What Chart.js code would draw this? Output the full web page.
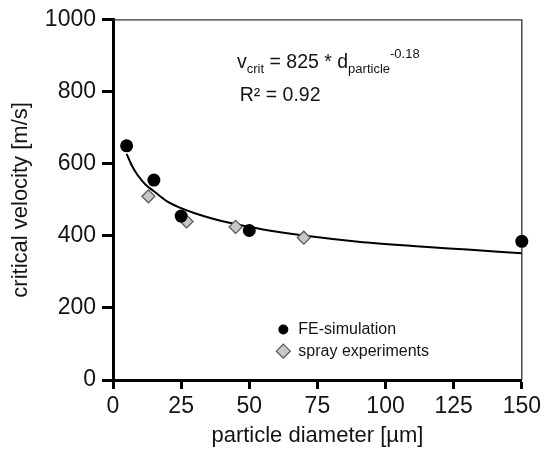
<!DOCTYPE html>
<html>
<head>
<meta charset="utf-8">
<script src="https://cdn.jsdelivr.net/npm/chart.js@4/dist/chart.umd.min.js"></script>
<style>
  html, body { margin: 0; padding: 0; background: #fff; }
  #wrap { width: 545px; height: 451px; }
</style>
</head>
<body>
<div id="wrap"><canvas id="chart" width="545" height="451"></canvas></div>
<script>
// values
const feX = [5, 15, 25, 50, 150];
const feY = [650, 555, 455, 415, 385];

const sprayX = [13, 27, 45, 70];
const sprayY = [510, 440, 425, 395];

// fitted curve
const fitX = [5, 7, 9, 12, 15, 20, 25, 30, 37, 45, 55, 70, 90, 110, 130, 150];
const fitY = [628, 594, 569, 542, 524, 495, 477, 463, 447, 433, 418, 401, 384, 372, 362, 352];

const legendLabels = ['FE-simulation', 'spray experiments'];

const FONT = '"Liberation Sans", Arial, Helvetica, sans-serif';
const INK = '#141414';

function pairs(xs, ys) {
  return xs.map((x, i) => ({ x: x, y: ys[i] }));
}

function drawDiamond(ctx, x, y, r) {
  ctx.beginPath();
  ctx.moveTo(x, y - r);
  ctx.lineTo(x + r, y);
  ctx.lineTo(x, y + r);
  ctx.lineTo(x - r, y);
  ctx.closePath();
  ctx.fillStyle = '#c8c8c8';
  ctx.fill();
  ctx.lineWidth = 1.2;
  ctx.strokeStyle = '#555';
  ctx.stroke();
}

// top/right frame, equation text and legend
const overlay = {
  id: 'overlay',
  beforeDatasetsDraw(chart) {
    const a = chart.chartArea, ctx = chart.ctx;
    ctx.save();
    ctx.strokeStyle = '#333';
    ctx.lineWidth = 1.3;
    ctx.beginPath();
    ctx.moveTo(a.left, a.top);
    ctx.lineTo(a.right, a.top);
    ctx.lineTo(a.right, a.bottom);
    ctx.stroke();
    ctx.restore();
  },
  afterDraw(chart) {
    const ctx = chart.ctx;
    const xs = chart.scales.x, ys = chart.scales.y;
    ctx.save();
    ctx.fillStyle = INK;
    ctx.textBaseline = 'alphabetic';

    // equation
    let px = xs.getPixelForValue(45.5);
    let py = ys.getPixelForValue(880) + 5;
    const big = '19.5px ' + FONT, small = '13px ' + FONT;
    const parts = [
      ['v', big, 0], ['crit', small, 5], [' = 825 * d', big, 0],
      ['particle', small, 5], ['-0.18', small, -10]
    ];
    parts.forEach(([t, f, dy]) => {
      ctx.font = f;
      ctx.fillText(t, px, py + dy);
      px += ctx.measureText(t).width;
    });

    // R²
    ctx.font = big;
    ctx.fillText('R² = 0.92', xs.getPixelForValue(46.5), ys.getPixelForValue(790) + 6);

    // legend
    const lx = xs.getPixelForValue(62.5);
    const ly1 = ys.getPixelForValue(140);
    const ly2 = ys.getPixelForValue(80);
    ctx.beginPath();
    ctx.arc(lx, ly1, 5, 0, Math.PI * 2);
    ctx.fillStyle = '#000';
    ctx.fill();
    drawDiamond(ctx, lx, ly2, 7);
    ctx.fillStyle = INK;
    ctx.font = '16px ' + FONT;
    ctx.textBaseline = 'middle';
    ctx.fillText(legendLabels[0], lx + 15, ly1);
    ctx.fillText(legendLabels[1], lx + 15, ly2);
    ctx.restore();
  }
};

new Chart(document.getElementById('chart'), {
  type: 'scatter',
  data: {
    datasets: [
      {
        label: 'fit',
        data: pairs(fitX, fitY),
        showLine: true,
        borderColor: '#000',
        borderWidth: 2,
        pointRadius: 0,
        cubicInterpolationMode: 'monotone',
        order: 3
      },
      {
        label: legendLabels[1],
        data: pairs(sprayX, sprayY),
        pointStyle: 'rectRot',
        pointRadius: 6.5,
        backgroundColor: '#c8c8c8',
        borderColor: '#555',
        borderWidth: 1.2,
        clip: false,
        order: 2
      },
      {
        label: legendLabels[0],
        data: pairs(feX, feY),
        pointStyle: 'circle',
        pointRadius: 6.5,
        backgroundColor: '#000',
        borderColor: '#000',
        borderWidth: 0,
        clip: false,
        order: 1
      }
    ]
  },
  options: {
    responsive: false,
    animation: false,
    events: [],
    layout: { padding: { top: 16, right: 20, left: 0, bottom: 0 } },
    plugins: {
      legend: { display: false },
      tooltip: { enabled: false }
    },
    scales: {
      x: {
        type: 'linear',
        min: 0,
        max: 150,
        afterFit: s => { s.height = 71; },
        ticks: {
          stepSize: 25,
          padding: 4,
          color: INK,
          font: { family: FONT, size: 23 },
          callback: v => String(v)
        },
        grid: {
          display: true,
          drawOnChartArea: false,
          drawTicks: true,
          tickLength: 9,
          tickWidth: 3,
          tickColor: '#000'
        },
        border: { display: true, width: 3, color: '#000' },
        title: {
          display: true,
          text: 'particle diameter [µm]',
          color: INK,
          padding: { top: 0, bottom: 2 },
          font: { family: FONT, size: 22 }
        }
      },
      y: {
        type: 'linear',
        min: 0,
        max: 1000,
        afterFit: s => { s.width = 113; },
        ticks: {
          stepSize: 200,
          padding: 6,
          color: INK,
          font: { family: FONT, size: 23 },
          callback: v => String(v)
        },
        grid: {
          display: true,
          drawOnChartArea: false,
          drawTicks: true,
          tickLength: 11,
          tickWidth: 3,
          tickColor: '#000'
        },
        border: { display: true, width: 3, color: '#000' },
        title: {
          display: true,
          text: 'critical velocity [m/s]',
          color: INK,
          padding: { top: 8, bottom: 0 },
          font: { family: FONT, size: 22 }
        }
      }
    }
  },
  plugins: [overlay]
});
</script>
</body>
</html>
